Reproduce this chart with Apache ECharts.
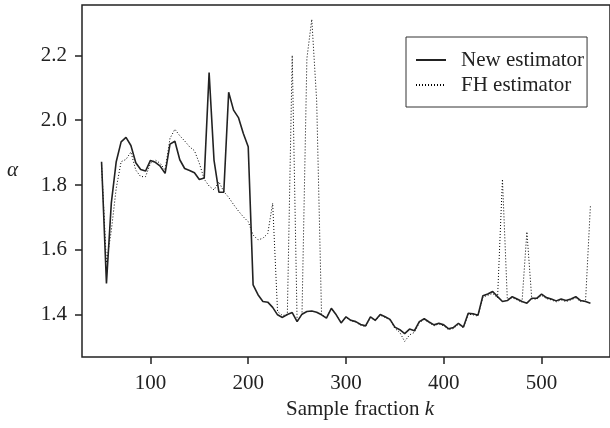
<!DOCTYPE html>
<html>
<head>
<meta charset="utf-8">
<script src="https://cdn.jsdelivr.net/npm/echarts@6/dist/echarts.min.js"></script>
<style>
html,body{margin:0;padding:0;background:#fff;}
#chart{width:610px;height:428px;}
</style>
</head>
<body>
<div id="chart"></div>
<script>
// Sample fraction k
var kValues = [50,55,60,65,70,75,80,85,90,95,100,105,110,115,120,125,130,135,140,145,150,155,160,165,170,175,180,185,190,195,200,205,210,215,220,225,230,235,240,245,250,255,260,265,270,275,280,285,290,295,300,305,310,315,320,325,330,335,340,345,350,355,360,365,370,375,380,385,390,395,400,405,410,415,420,425,430,435,440,445,450,455,460,465,470,475,480,485,490,495,500,505,510,515,520,525,530,535,540,545,550];
// New estimator
var newEstimator = [1.872,1.497,1.745,1.872,1.933,1.947,1.922,1.869,1.848,1.843,1.876,1.870,1.858,1.836,1.926,1.935,1.878,1.851,1.845,1.838,1.817,1.822,2.147,1.877,1.778,1.778,2.086,2.031,2.008,1.959,1.918,1.492,1.462,1.441,1.439,1.423,1.400,1.392,1.401,1.407,1.379,1.402,1.410,1.412,1.408,1.400,1.390,1.420,1.400,1.375,1.394,1.383,1.379,1.370,1.366,1.394,1.383,1.401,1.394,1.386,1.362,1.354,1.342,1.356,1.351,1.379,1.388,1.378,1.369,1.374,1.369,1.357,1.361,1.374,1.362,1.405,1.403,1.399,1.459,1.464,1.472,1.456,1.441,1.444,1.456,1.449,1.441,1.436,1.451,1.451,1.464,1.453,1.449,1.443,1.449,1.444,1.449,1.456,1.444,1.441,1.436];
// FH estimator
var fhEstimator = [1.862,1.560,1.660,1.790,1.872,1.879,1.902,1.846,1.826,1.826,1.867,1.877,1.867,1.846,1.944,1.972,1.952,1.936,1.918,1.906,1.867,1.818,1.797,1.785,1.810,1.780,1.762,1.740,1.720,1.702,1.687,1.646,1.631,1.636,1.651,1.744,1.410,1.398,1.400,2.200,1.380,1.402,2.190,2.311,2.060,1.400,1.392,1.418,1.400,1.376,1.392,1.381,1.378,1.368,1.364,1.392,1.382,1.399,1.392,1.384,1.358,1.346,1.318,1.338,1.346,1.376,1.386,1.376,1.366,1.372,1.366,1.354,1.358,1.371,1.360,1.402,1.400,1.396,1.455,1.460,1.466,1.452,1.818,1.447,1.453,1.446,1.439,1.656,1.449,1.448,1.460,1.450,1.446,1.440,1.446,1.441,1.446,1.452,1.441,1.443,1.738];
var xTicks = [100,200,300,400,500];
var yTicks = [1.4,1.6,1.8,2.0,2.2];

function pairs(xs, ys){ return xs.map(function(x,i){ return [x, ys[i]]; }); }

var FONT = 'Liberation Serif';
var FS = 21;
var chart = echarts.init(document.getElementById('chart'), null, {renderer:'canvas'});
chart.setOption({
  animation: false,
  backgroundColor: '#fff',
  textStyle: {fontFamily: FONT},
  grid: {left: 82, top: 5, width: 535, height: 352, show: true, borderColor: '#222', borderWidth: 1.5, backgroundColor: 'transparent'},
  legend: {
    orient: 'vertical', left: 406, top: 37,
    padding: [12, 3, 11, 9], itemGap: 3, itemWidth: 30, itemHeight: 14,
    borderColor: '#333', borderWidth: 1, backgroundColor: '#fff',
    itemStyle: {opacity: 0},
    textStyle: {fontFamily: FONT, fontSize: FS, color: '#222', lineHeight: 22, padding: [0,0,0,10]},
    data: ['New estimator', 'FH estimator']
  },
  xAxis: {
    type: 'value', min: 30, max: 570,
    axisLine: {show: false},
    splitLine: {show: false},
    axisTick: {show: true, length: 7, customValues: xTicks, lineStyle: {color: '#222', width: 1.5}},
    axisLabel: {customValues: xTicks, margin: 16, fontFamily: FONT, fontSize: FS, color: '#222'},
    name: '{a|Sample fraction }{b|k}', nameLocation: 'middle', nameGap: 40,
    nameTextStyle: {padding: [0,0,0,28], rich: {a: {fontFamily: FONT, fontSize: FS, color: '#222'}, b: {fontFamily: FONT, fontSize: FS, fontStyle: 'italic', color: '#222'}}}
  },
  yAxis: {
    type: 'value', min: 1.27, max: 2.355,
    axisLine: {show: false},
    splitLine: {show: false},
    axisTick: {show: true, length: 7, customValues: yTicks, lineStyle: {color: '#222', width: 1.5}},
    axisLabel: {customValues: yTicks, margin: 15, fontFamily: FONT, fontSize: FS, color: '#222', formatter: function(v){ return v.toFixed(1); }},
    name: 'α', nameLocation: 'middle', nameRotate: 0, nameGap: 64,
    nameTextStyle: {fontFamily: FONT, fontSize: FS, fontStyle: 'italic', color: '#222', verticalAlign: 'bottom'}
  },
  series: [
    {name: 'New estimator', type: 'line', symbol: 'none', data: pairs(kValues, newEstimator),
     lineStyle: {color: '#222', width: 1.6}, itemStyle: {color: '#222'}, z: 3},
    {name: 'FH estimator', type: 'line', symbol: 'none', data: pairs(kValues, fhEstimator),
     lineStyle: {color: '#000', width: 1, type: [1, 2]}, itemStyle: {color: '#000'}, z: 2}
  ]
});
</script>
</body>
</html>
